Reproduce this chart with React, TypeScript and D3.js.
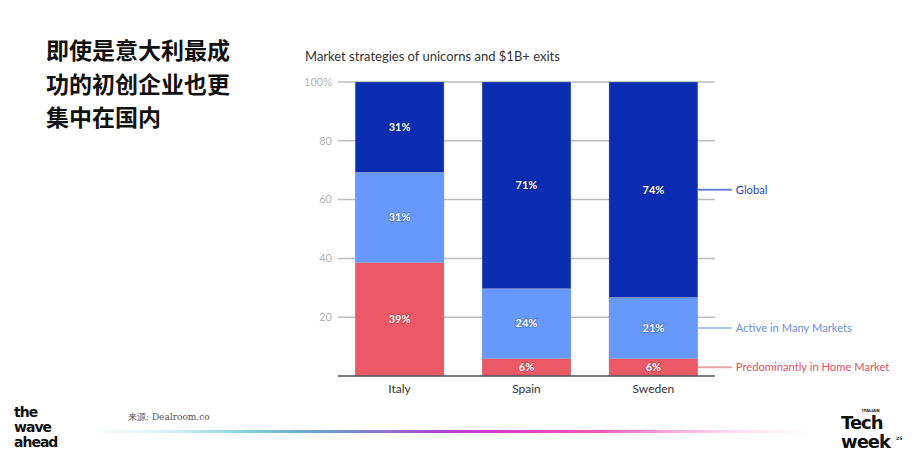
import React, { useEffect, useRef } from "react";
import * as d3 from "d3";

const countries = ["Italy", "Spain", "Sweden"];
const homeMarket = [39, 6, 6];
const manyMarkets = [31, 24, 21];
const globalShare = [31, 71, 74];
const yTicks = [0, 20, 40, 60, 80, 100];
const seriesNames = ["Predominantly in Home Market", "Active in Many Markets", "Global"];
const seriesKeys = ["home", "many", "global"];

const fills = ["#ec5966", "#6699fb", "#0a2db1"];
const legendText = ["#d95566", "#6a90d8", "#2a44b0"];
const legendLine = ["#eba3ab", "#aec4ec", "#6c82d8"];

const W = 920;
const H = 460;
const margin = { top: 82, bottom: 84, left: 338, right: 205 };

const Chart = () => {
  const ref = useRef<SVGGElement>(null);

  useEffect(() => {
    const g = d3.select(ref.current);
    g.selectAll("*").remove();

    const rows = countries.map((c, i) => ({
      country: c,
      home: homeMarket[i],
      many: manyMarkets[i],
      global: globalShare[i],
    }));

    const x = d3
      .scaleBand()
      .domain(countries)
      .range([margin.left, W - margin.right])
      .paddingInner(0.3)
      .paddingOuter(0.135);
    const y = d3
      .scaleLinear()
      .domain([0, 100])
      .range([H - margin.bottom, margin.top]);

    const stack = d3
      .stack<any>()
      .keys(seriesKeys)
      .offset(d3.stackOffsetExpand);
    const layers = stack(rows);

    // grid + tick labels
    const grid = g.append("g");
    grid
      .selectAll("line")
      .data(yTicks.slice(1))
      .join("line")
      .attr("x1", margin.left)
      .attr("x2", W - margin.right)
      .attr("y1", d => y(d))
      .attr("y2", d => y(d))
      .attr("stroke", "#bdbdbd")
      .attr("stroke-width", 1.5);
    grid
      .selectAll("text")
      .data(yTicks.slice(1))
      .join("text")
      .attr("x", margin.left - 6)
      .attr("y", d => y(d))
      .attr("dy", "0.35em")
      .attr("text-anchor", "end")
      .attr("font-size", 11)
      .attr("fill", "#b3b3b3")
      .text(d => (d === 100 ? "100%" : d));

    // bars
    layers.forEach((layer, li) => {
      g.append("g")
        .selectAll("rect")
        .data(layer)
        .join("rect")
        .attr("x", d => x(d.data.country)!)
        .attr("width", x.bandwidth())
        .attr("y", d => y(d[1] * 100))
        .attr("height", d => y(d[0] * 100) - y(d[1] * 100))
        .attr("fill", fills[li])
        .attr("stroke", "#9aa0b8")
        .attr("stroke-width", 0.4);

      g.append("g")
        .selectAll("text")
        .data(layer)
        .join("text")
        .attr("x", d => x(d.data.country)! + x.bandwidth() / 2)
        .attr("y", d => y(((d[0] + d[1]) / 2) * 100))
        .attr("dy", "0.35em")
        .attr("text-anchor", "middle")
        .attr("font-size", 11)
        .attr("font-weight", 700)
        .attr("fill", "#fff")
        .style("paint-order", "stroke")
        .attr("stroke", "rgba(0,0,0,0.25)")
        .attr("stroke-width", 1.5)
        .text(d => `${d.data[seriesKeys[li]]}%`);
    });

    // baseline
    g.append("line")
      .attr("x1", margin.left)
      .attr("x2", W - margin.right)
      .attr("y1", y(0))
      .attr("y2", y(0))
      .attr("stroke", "#555")
      .attr("stroke-width", 1.5);

    // category labels
    g.append("g")
      .selectAll("text")
      .data(countries)
      .join("text")
      .attr("x", d => x(d)! + x.bandwidth() / 2)
      .attr("y", y(0) + 17)
      .attr("text-anchor", "middle")
      .attr("font-size", 12)
      .attr("fill", "#333")
      .text(d => d);

    // direct labels beside the last bar
    const last = countries[countries.length - 1];
    const lx = x(last)! + x.bandwidth();
    layers.forEach((layer, li) => {
      const d = layer[layer.length - 1];
      const ly = y(((d[0] + d[1]) / 2) * 100);
      g.append("line")
        .attr("x1", lx)
        .attr("x2", lx + 34)
        .attr("y1", ly)
        .attr("y2", ly)
        .attr("stroke", legendLine[li])
        .attr("stroke-width", 2);
      g.append("text")
        .attr("x", lx + 38)
        .attr("y", ly)
        .attr("dy", "0.35em")
        .attr("font-size", 11.2)
        .attr("fill", legendText[li])
        .text(seriesNames[li]);
    });
  }, []);

  return (
    <svg
      width={W}
      height={H}
      style={{ display: "block", position: "absolute", left: 0, top: 0 }}
      fontFamily="Lato, sans-serif"
    >
      <defs>
        <linearGradient id="rule" x1="0" x2="1" y1="0" y2="0">
          <stop offset="0" stopColor="#e6f7f8" stopOpacity={0.2} />
          <stop offset="0.22" stopColor="#7fcdd6" />
          <stop offset="0.32" stopColor="#6a9fc8" />
          <stop offset="0.48" stopColor="#b044d0" />
          <stop offset="0.56" stopColor="#d83cc8" />
          <stop offset="0.7" stopColor="#f15ab8" />
          <stop offset="1" stopColor="#ffffff" stopOpacity={0.3} />
        </linearGradient>
      </defs>
      <rect width={W} height={H} fill="#fff" />
      <g fontFamily="'Noto Sans CJK SC', sans-serif" fontWeight={700} fontSize={23} fill="#111">
        <text x={46} y={59}>即使是意大利最成</text>
        <text x={46} y={93}>功的初创企业也更</text>
        <text x={46} y={126}>集中在国内</text>
      </g>
      <text x={305} y={61} fontSize={13} fill="#333">
        Market strategies of unicorns and $1B+ exits
      </text>
      <g ref={ref} />
      <text x={128} y={420} fontSize={9} fill="#555" fontFamily="'DejaVu Serif', serif">
        来源:  Dealroom.co
      </text>
      <rect x={90} y={430} width={730} height={3} fill="url(#rule)" />
      <g fontFamily="'DejaVu Sans', sans-serif" fontWeight={700} fill="#111" fontSize={14}>
        <text x={14} y={417} letterSpacing={-1}>the</text>
        <text x={14} y={432} letterSpacing={-1}>wave</text>
        <text x={14} y={447} letterSpacing={-1}>ahead</text>
      </g>
      <g fontFamily="'DejaVu Sans', sans-serif" fontWeight={800} fill="#111">
        <text x={862} y={412} fontSize={4}>ITALIAN</text>
        <text x={841} y={429} fontSize={18} letterSpacing={-1}>Tech</text>
        <text x={841} y={448} fontSize={18} letterSpacing={-1}>week</text>
        <text x={896} y={440} fontSize={4.5}>25</text>
      </g>
    </svg>
  );
};

export default function App() {
  return <Chart />;
}
